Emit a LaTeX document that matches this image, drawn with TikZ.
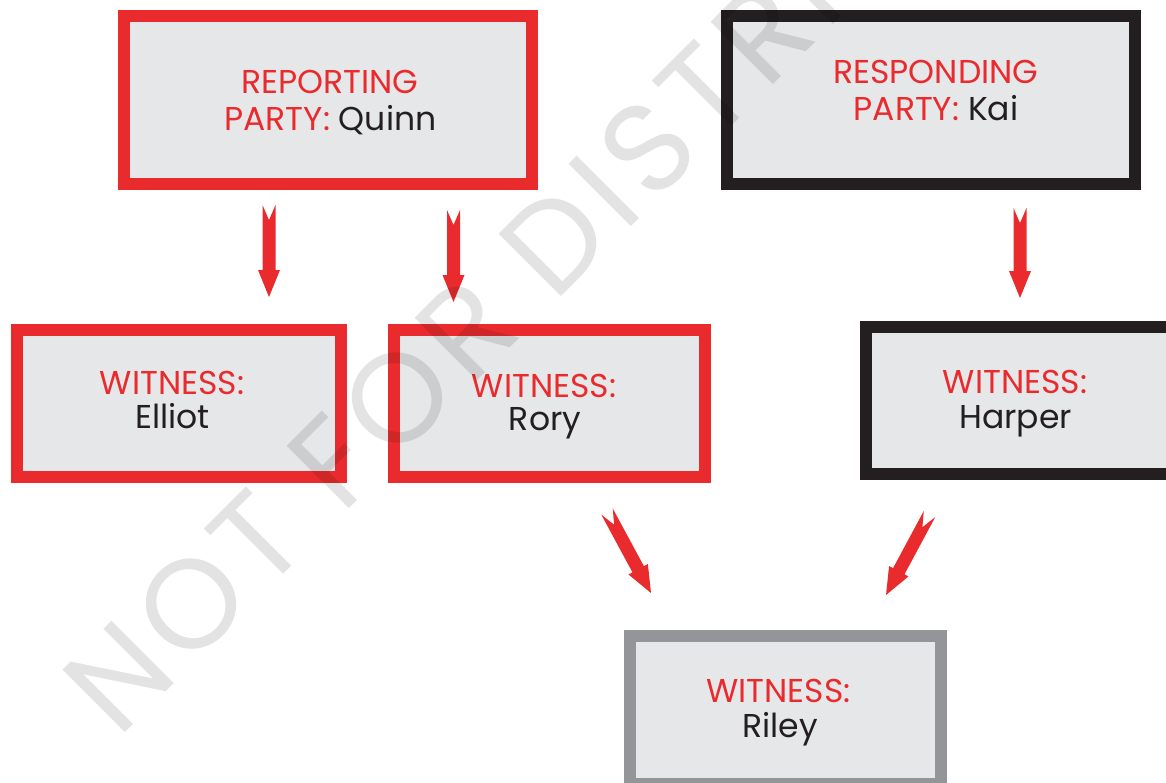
\documentclass[tikz,border=0pt]{standalone}
\usepackage{fontspec}
\setmainfont{Poppins}
\newfontfamily\wmfont[LetterSpace=7]{Poppins}
\usetikzlibrary{calc}
\definecolor{boxred}{HTML}{E92B2E}
\definecolor{boxfill}{HTML}{E6E7E8}
\definecolor{boxblack}{HTML}{231F20}
\definecolor{boxgray}{HTML}{939598}
\newcommand\blockarrow[2]{%
  \path coordinate (#1-n) at ($(#1)!0.3cm!(#2)$)
        coordinate (#1-h) at ($(#2)!0.54cm!(#1)$);
  \fill[boxred] ($(#1)!0.13cm!90:(#2)$) -- (#1-n) -- ($(#1)!0.13cm!-90:(#2)$)
    -- ($(#1-h)!0.13cm!-90:(#2)$) -- ($(#1-h)!0.22cm!-90:(#2)$) -- (#2)
    -- ($(#1-h)!0.22cm!90:(#2)$) -- ($(#1-h)!0.13cm!90:(#2)$) -- cycle;
}
\begin{document}
\begin{tikzpicture}[x=0.02cm,y=-0.02cm,
  box/.style={draw=#1,fill=boxfill,line width=0.23cm,inner sep=0pt,outer sep=0pt},
  lbl/.style={anchor=base,inner sep=0pt,font=\fontsize{18.8}{22}\selectfont,text=boxred},
  nm/.style={anchor=base,inner sep=0pt,font=\fontsize{18.8}{22}\selectfont,text=boxblack},
  wm/.style={anchor=base west,inner sep=0pt,rotate=45,text=black,text opacity=0.11,font=\wmfont\fontsize{72}{72}\selectfont}]
\clip (0,0) rectangle (1166,782);
% boxes (centres and sizes from outer edges)
\node[box=boxred,minimum width=8.17cm,minimum height=3.37cm] (rep) at (328,100) {};
\node[box=boxblack,minimum width=8.17cm,minimum height=3.37cm] (resp) at (931,100) {};
\node[box=boxred,minimum width=6.49cm,minimum height=2.95cm] (ell) at (179,403.5) {};
\node[box=boxred,minimum width=6.23cm,minimum height=2.95cm] (ror) at (549.5,403.5) {};
\node[box=boxblack,minimum width=6.23cm,minimum height=2.95cm] (har) at (1021.5,400.5) {};
\node[box=boxgray,minimum width=6.23cm,minimum height=2.95cm] (ril) at (785.5,709.5) {};
% texts
\node[lbl] (rep-l1) at (330,93) {REPORTING};
\node[lbl] (rep-l2) at (330.5,130) {PARTY: \textcolor{boxblack}{Quinn}};
\node[lbl] (resp-l1) at (936,83) {RESPONDING};
\node[lbl] (resp-l2) at (936,120) {PARTY: \textcolor{boxblack}{Kai}};
\node[lbl] (ell-l1) at (172,394) {WITNESS:};
\node[nm] (ell-l2) at (172.5,428) {Elliot};
\node[lbl] (ror-l1) at (544,397) {WITNESS:};
\node[nm] (ror-l2) at (545,430) {Rory};
\node[lbl] (har-l1) at (1015,393) {WITNESS:};
\node[nm] (har-l2) at (1015.5,428) {Harper};
\node[lbl] (ril-l1) at (778.5,702) {WITNESS:};
\node[nm] (ril-l2) at (780,737) {Riley};
% arrows
\coordinate (a1) at (269,205); \coordinate (a1e) at (269,297);
\coordinate (a2) at (453.5,210); \coordinate (a2e) at (453.5,302);
\coordinate (a3) at (1020,208); \coordinate (a3e) at (1020,298);
\coordinate (a4) at (607,511.5); \coordinate (a4e) at (651,593);
\coordinate (a5) at (929.5,514); \coordinate (a5e) at (886,595);
\blockarrow{a1}{a1e}
\blockarrow{a2}{a2e}
\blockarrow{a3}{a3e}
\blockarrow{a4}{a4e}
\blockarrow{a5}{a5e}
% watermark
\node[wm] (mark) at (118,740) {NOT FOR DISTRIBUTION};
\end{tikzpicture}
\end{document}
